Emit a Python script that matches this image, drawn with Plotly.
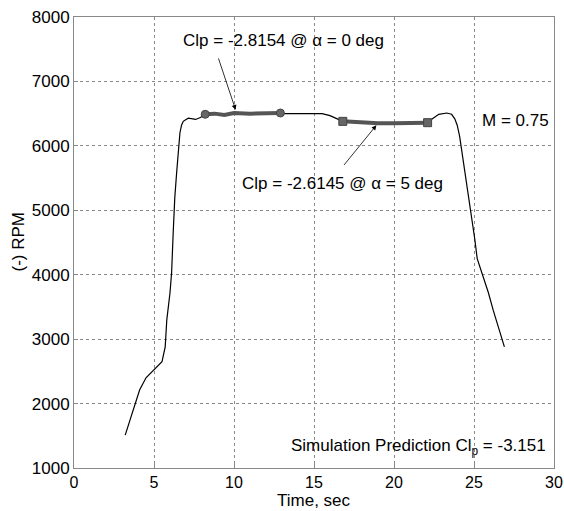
import plotly.graph_objects as go

time_s = [3.2, 3.7, 4.1, 4.5, 4.95, 5.5, 5.7, 5.8, 6.0, 6.1, 6.2, 6.3, 6.42, 6.52, 6.62, 6.72,
          6.83, 7.0, 7.15, 7.6, 7.9, 8.2, 8.8, 9.4, 10.0, 11.0, 12.0, 12.9, 13.5, 14.9, 15.5,
          16.0, 16.5, 16.8, 18.0, 19.0, 20.0, 21.0, 22.1, 22.4, 22.8, 23.3, 23.6, 23.8, 23.95,
          24.1, 24.25, 24.45, 24.65, 24.86, 25.05, 25.2, 25.4, 25.6, 25.9, 26.2, 26.55, 26.9]
rpm = [1510, 1900, 2210, 2400, 2520, 2650, 2880, 3300, 3720, 4030, 4650, 5200, 5600, 5950, 6200, 6320,
       6380, 6410, 6430, 6410, 6440, 6490, 6500, 6480, 6510, 6500, 6500, 6510, 6500, 6510, 6500,
       6470, 6410, 6380, 6360, 6350, 6350, 6350, 6360, 6420, 6490, 6510, 6490, 6420, 6320,
       6150, 5900, 5560, 5250, 4900, 4550, 4250, 4100, 3980, 3720, 3450, 3160, 2880]

seg0_time = [8.2, 8.8, 9.4, 10.0, 11.0, 12.0, 12.9]
seg0_rpm = [6490, 6500, 6480, 6510, 6500, 6500, 6510]
seg5_time = [16.8, 18.0, 19.0, 20.0, 21.0, 22.1]
seg5_rpm = [6380, 6360, 6350, 6350, 6350, 6360]

FONT = "Liberation Sans, Arial, sans-serif"

fig = go.Figure()
fig.add_trace(go.Scatter(x=time_s, y=rpm, mode="lines", line=dict(color="black", width=1.2),
                         showlegend=False))
fig.add_trace(go.Scatter(x=seg0_time, y=seg0_rpm, mode="lines", line=dict(color="#555555", width=4),
                         showlegend=False))
fig.add_trace(go.Scatter(x=[seg0_time[0], seg0_time[-1]], y=[seg0_rpm[0], seg0_rpm[-1]], mode="markers",
                         marker=dict(symbol="circle", size=8, color="#666666",
                                     line=dict(color="#444444", width=1)), showlegend=False))
fig.add_trace(go.Scatter(x=seg5_time, y=seg5_rpm, mode="lines", line=dict(color="#555555", width=4),
                         showlegend=False))
fig.add_trace(go.Scatter(x=[seg5_time[0], seg5_time[-1]], y=[seg5_rpm[0], seg5_rpm[-1]], mode="markers",
                         marker=dict(symbol="square", size=8, color="#666666",
                                     line=dict(color="#444444", width=1)), showlegend=False))

tf = dict(family=FONT, size=17, color="black")
annos = [
    dict(x=13.1, y=7630, text="Clp = -2.8154 @ α = 0 deg", showarrow=False, font=tf),
    dict(x=16.8, y=5410, text="Clp = -2.6145 @ α = 5 deg", showarrow=False, font=tf),
    dict(x=27.6, y=6400, text="M = 0.75", showarrow=False, font=tf),
    dict(x=29.6, y=1330, text="Simulation Prediction Cl<sub>p</sub> = -3.151", showarrow=False,
         font=tf, xanchor="right"),
    dict(x=10.1, y=6560, ax=9.0, ay=7380, axref="x", ayref="y", text="", showarrow=True,
         arrowhead=2, arrowsize=1.2, arrowwidth=0.8, arrowcolor="black"),
    dict(x=18.9, y=6320, ax=16.8, ay=5680, axref="x", ayref="y", text="", showarrow=True,
         arrowhead=2, arrowsize=1.2, arrowwidth=0.8, arrowcolor="black"),
]
for a in annos:
    a.setdefault("xref", "x")
    a.setdefault("yref", "y")
    fig.add_annotation(**a)

# axis titles placed as paper annotations
fig.add_annotation(xref="paper", yref="paper", x=0.5, y=0, yanchor="middle", yshift=-32,
                   text="Time, sec", showarrow=False, font=dict(family=FONT, size=17, color="black"))
fig.add_annotation(xref="paper", yref="paper", x=0, y=0.5, xanchor="center", xshift=-56,
                   text="(-) RPM", textangle=-90, showarrow=False,
                   font=dict(family=FONT, size=17, color="black"))

axis_common = dict(showgrid=True, gridcolor="#888888", griddash="dot", gridwidth=1,
                   showline=True, linecolor="#888888", linewidth=1, mirror=True,
                   ticks="inside", ticklen=4, tickcolor="#888888", zeroline=False,
                   automargin=False)
fig.update_xaxes(range=[0, 30], dtick=5, tickfont=dict(family=FONT, size=16, color="black"),
                 **axis_common)
fig.update_yaxes(range=[1000, 8000], dtick=1000, tickfont=dict(family=FONT, size=17, color="black"),
                 **axis_common)

fig.update_layout(width=564, height=511, margin=dict(l=74, r=10, t=17, b=43),
                  plot_bgcolor="white", paper_bgcolor="white", showlegend=False)
fig.write_html("out.html", config={"displayModeBar": False},
               post_script="document.body.style.margin='0';")
